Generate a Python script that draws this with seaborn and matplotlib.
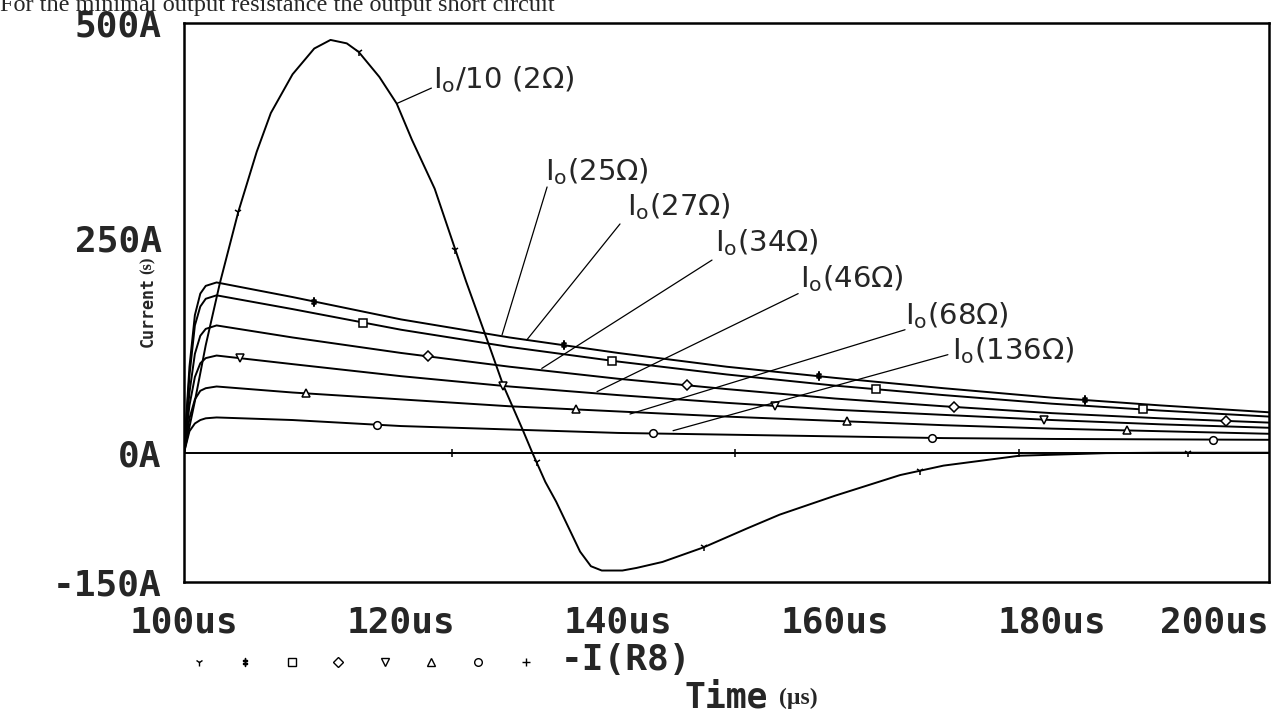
import matplotlib
matplotlib.use("Agg")
import numpy as np
import pandas as pd
import matplotlib.pyplot as plt
import seaborn as sns

# decaying output currents for different output resistances (A)
t_dec = [100, 100.5, 101, 101.5, 102, 103, 110, 120, 130, 140, 150, 160, 170, 180, 190, 200]
i_25 = [0, 100, 160, 185, 194, 198, 181, 155, 134, 116, 100, 87, 75, 64, 55, 47]
i_27 = [0, 90, 148, 170, 179, 183, 167, 143, 123, 106, 91, 78, 67, 57, 49, 42]
i_34 = [0, 70, 115, 136, 144, 148, 134, 116, 100, 86, 74, 63, 54, 46, 40, 35]
i_46 = [0, 55, 88, 104, 110, 113, 103, 89, 77, 67, 58, 50, 44, 38, 33, 29]
i_68 = [0, 40, 62, 72, 75, 77, 70, 62, 54, 48, 42, 37, 32, 28, 25, 22]
i_136 = [0, 25, 34, 38, 40, 41, 38, 31, 27, 23, 21, 19, 17, 16, 15.5, 15]

# short circuit current / 10 (2 ohm)
t_osc = [100, 101, 102, 103.3, 105, 106.7, 108, 110, 112, 113.5, 115, 116.1, 118, 119.6,
         121, 123.1, 126, 128, 129.4, 131.2, 132.1, 133.3, 134.3, 136.5, 137.5, 138.5,
         140.4, 141.7, 144.1, 147.9, 151.9, 154.9, 160, 166, 170, 177, 181, 185, 190, 200]
i_osc = [0, 60, 125, 197, 280, 350, 395, 440, 470, 480, 476, 466, 437, 406,
         364, 307, 199, 129, 79, 27, 0, -34, -57, -115, -132, -137,
         -137, -134, -127, -110, -88, -72, -50, -26, -15, -3.5, -2, -0.5, 0, 0]

t_zero = [100, 200]
i_zero = [0, 0]

# marker times along each trace
m_osc = [105, 116.1, 125, 132.5, 147.9, 167.8, 192.5]
m_25 = [112, 135, 158.5, 183]
m_27 = [116.5, 139.4, 163.8, 188.4]
m_34 = [122.5, 146.4, 171, 196]
m_46 = [105.2, 129.4, 154.5, 179.3]
m_68 = [111.2, 136.1, 161.1, 186.9]
m_136 = [117.8, 143.2, 168.9, 194.8]
m_zero = [124.7, 150.8, 177]

# curve labels: text, baseline position, leader line (start -> end)
labels = [r"I$_o$/10 (2Ω)", r"I$_o$(25Ω)", r"I$_o$(27Ω)", r"I$_o$(34Ω)",
          r"I$_o$(46Ω)", r"I$_o$(68Ω)", r"I$_o$(136Ω)"]
label_t = [122.95, 133.27, 140.83, 148.94, 156.77, 166.45, 170.78]
label_i = [424, 317, 276, 234, 192, 150, 109]
lead_t0 = [122.8, 133.46, 140.18, 148.66, 156.6, 166.45, 170.4]
lead_i0 = [424, 309, 266, 224, 185, 143, 114]
lead_t1 = [119.6, 129.31, 131.58, 132.97, 138.06, 141.1, 145.07]
lead_i1 = [406, 137, 131, 98, 71, 45, 25.6]

yticks = [-150, 0, 250, 500]
ytick_labels = ["-150A", "0A", "250A", "500A"]
xticks = [100, 120, 140, 160, 180, 200]
xtick_labels = ["100us", "120us", "140us", "160us", "180us", "200us"]

sns.set_style("white")
plt.rcParams["font.family"] = ["DejaVu Sans"]
plt.rcParams["mathtext.default"] = "regular"

traces = [
    ("osc", t_osc, i_osc, m_osc, "1"),
    ("25", t_dec, i_25, m_25, "$‡$"),
    ("27", t_dec, i_27, m_27, "s"),
    ("34", t_dec, i_34, m_34, "D"),
    ("46", t_dec, i_46, m_46, "v"),
    ("68", t_dec, i_68, m_68, "^"),
    ("136", t_dec, i_136, m_136, "o"),
    ("zero", t_zero, i_zero, m_zero, "+"),
]

df = pd.concat([pd.DataFrame({"trace": name, "t": t, "I": i})
                for name, t, i, _, _ in traces], ignore_index=True)

fig = plt.figure(figsize=(12.78, 7.17), dpi=100)
ax = fig.add_axes([0.144, 0.1887, 0.849, 0.7796])

sns.lineplot(data=df, x="t", y="I", units="trace", estimator=None, sort=False,
             color="black", lw=1.4, legend=False, ax=ax)

for name, t, i, mt, mk in traces:
    mi = np.interp(mt, t, i)
    ax.plot(mt, mi, ls="none", marker=mk, ms=5.5, mfc="white", mec="black", mew=1.1)

for txt, lt, li, t0, i0, t1, i1 in zip(labels, label_t, label_i, lead_t0, lead_i0, lead_t1, lead_i1):
    ax.plot([t0, t1], [i0, i1], color="black", lw=0.9)
    ax.text(lt, li, txt, fontsize=21, ha="left", va="baseline")

ax.set_xlim(100, 200)
ax.set_ylim(-150, 500)
ax.set_xticks(xticks)
ax.set_xticklabels(xtick_labels)
ax.set_yticks(yticks)
ax.set_yticklabels(ytick_labels)
ax.set_xlabel("")
ax.set_ylabel("")
for lab in ax.get_xticklabels() + ax.get_yticklabels():
    lab.set_family("DejaVu Sans Mono")
    lab.set_weight("bold")
    lab.set_fontsize(26)
ax.get_xticklabels()[-1].set_ha("right")
ax.tick_params(axis="both", direction="out", length=12, width=1.6, color="black")
ax.tick_params(axis="x", pad=5)
ax.tick_params(axis="y", pad=4)
for sp in ax.spines.values():
    sp.set_linewidth(1.8)
    sp.set_color("black")

# trace legend row under the axis
leg_x = [198.8, 245, 292, 338, 384.5, 430.6, 478, 525.7]
for (name, t, i, mt, mk), lx in zip(traces, leg_x):
    fig.lines.append(plt.Line2D([lx / 1278], [1 - 661.7 / 717], transform=fig.transFigure,
                                ls="none", marker=mk, ms=5.5, mfc="white", mec="black", mew=1.0))
fig.text(561 / 1278, 1 - 660 / 717, "-I(R8)", family="DejaVu Sans Mono", weight="bold",
         fontsize=26, ha="left", va="center")

fig.text(685 / 1278, 1 - 698 / 717, "Time", family="DejaVu Sans Mono", weight="bold",
         fontsize=25, ha="left", va="center")
fig.text(779 / 1278, 1 - 698 / 717, "(µs)", family="Liberation Serif", weight="bold",
         fontsize=17, ha="left", va="center")

fig.text(148 / 1278, 1 - 347 / 717, "Current", family="DejaVu Sans Mono", weight="bold",
         fontsize=12, rotation=90, ha="center", va="bottom")
fig.text(148 / 1278, 1 - 274 / 717, "(s)", family="Liberation Serif", weight="bold",
         fontsize=12, rotation=90, ha="center", va="bottom")

fig.text(0.0, 1 - 11 / 717, "For the minimal output resistance the output short circuit",
         family="Liberation Serif", fontsize=17.5, ha="left", va="baseline")

fig.savefig("out.png", dpi=100)
